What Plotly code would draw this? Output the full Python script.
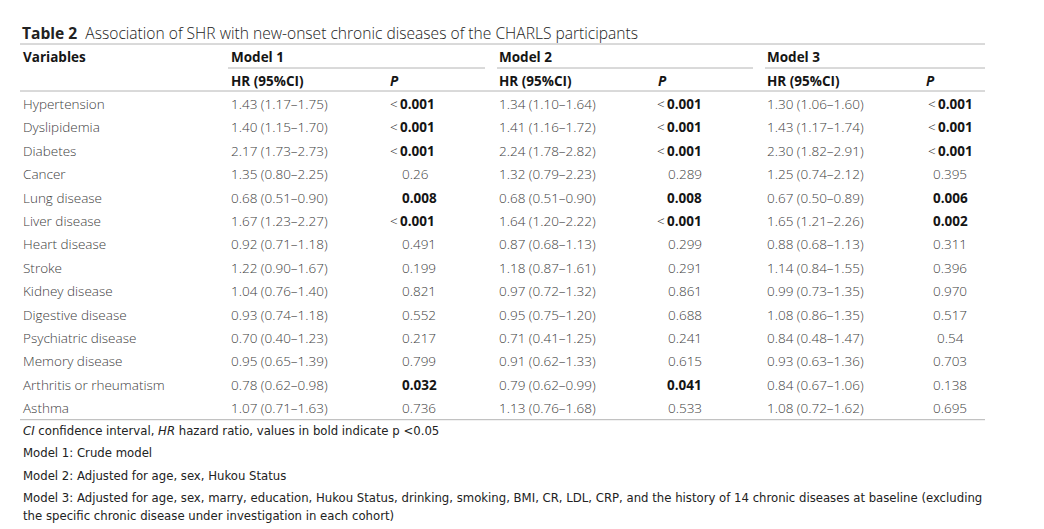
import plotly.graph_objects as go

# table content
variables = ["Hypertension", "Dyslipidemia", "Diabetes", "Cancer", "Lung disease",
             "Liver disease", "Heart disease", "Stroke", "Kidney disease",
             "Digestive disease", "Psychiatric disease", "Memory disease",
             "Arthritis or rheumatism", "Asthma"]

hr_model1 = ["1.43 (1.17–1.75)", "1.40 (1.15–1.70)", "2.17 (1.73–2.73)", "1.35 (0.80–2.25)",
             "0.68 (0.51–0.90)", "1.67 (1.23–2.27)", "0.92 (0.71–1.18)", "1.22 (0.90–1.67)",
             "1.04 (0.76–1.40)", "0.93 (0.74–1.18)", "0.70 (0.40–1.23)", "0.95 (0.65–1.39)",
             "0.78 (0.62–0.98)", "1.07 (0.71–1.63)"]
p_model1 = ["<0.001", "<0.001", "<0.001", "0.26", "0.008", "<0.001", "0.491", "0.199",
            "0.821", "0.552", "0.217", "0.799", "0.032", "0.736"]

hr_model2 = ["1.34 (1.10–1.64)", "1.41 (1.16–1.72)", "2.24 (1.78–2.82)", "1.32 (0.79–2.23)",
             "0.68 (0.51–0.90)", "1.64 (1.20–2.22)", "0.87 (0.68–1.13)", "1.18 (0.87–1.61)",
             "0.97 (0.72–1.32)", "0.95 (0.75–1.20)", "0.71 (0.41–1.25)", "0.91 (0.62–1.33)",
             "0.79 (0.62–0.99)", "1.13 (0.76–1.68)"]
p_model2 = ["<0.001", "<0.001", "<0.001", "0.289", "0.008", "<0.001", "0.299", "0.291",
            "0.861", "0.688", "0.241", "0.615", "0.041", "0.533"]

hr_model3 = ["1.30 (1.06–1.60)", "1.43 (1.17–1.74)", "2.30 (1.82–2.91)", "1.25 (0.74–2.12)",
             "0.67 (0.50–0.89)", "1.65 (1.21–2.26)", "0.88 (0.68–1.13)", "1.14 (0.84–1.55)",
             "0.99 (0.73–1.35)", "1.08 (0.86–1.35)", "0.84 (0.48–1.47)", "0.93 (0.63–1.36)",
             "0.84 (0.67–1.06)", "1.08 (0.72–1.62)"]
p_model3 = ["<0.001", "<0.001", "<0.001", "0.395", "0.006", "0.002", "0.311", "0.396",
            "0.970", "0.517", "0.54", "0.703", "0.138", "0.695"]

model_names = ["Model 1", "Model 2", "Model 3"]

title_bold = "Table 2"
title_text = "Association of SHR with new-onset chronic diseases of the CHARLS participants"
footnotes = [
    "<i>CI</i> confidence interval, <i>HR</i> hazard ratio, values in bold indicate p <0.05",
    "Model 1: Crude model",
    "Model 2: Adjusted for age, sex, Hukou Status",
    "Model 3: Adjusted for age, sex, marry, education, Hukou Status, drinking, smoking, BMI, CR, LDL, CRP, and the history of 14 chronic diseases at baseline (excluding",
    "the specific chronic disease under investigation in each cohort)",
]

W, H = 1044, 529
OFF = 8  # page body margin, so coordinates below are window pixels
FONT = "Open Sans"
NARROW = "Liberation Sans Narrow, DejaVu Sans Condensed, Open Sans"
TXT = "#404040"
DARK = "#151515"
RULE = "#b4b4b4"
BODY = 13.5

fig = go.Figure()
anns = []


def add_text(x, y, text, size=BODY, color=TXT, anchor="left", family=FONT, weight=300):
    anns.append(dict(x=x, y=y, xref="x", yref="y", text=text, showarrow=False,
                     xanchor=anchor, yanchor="middle",
                     font=dict(family=family, size=size, color=color, weight=weight)))


def is_sig(p):
    return p.startswith("<") or float(p) < 0.05


def fmt_sig(p):
    # "<" stays light, the number is bold
    if p.startswith("<"):
        return "<\u2009<b>" + p[1:] + "</b>"
    return f"<b>{p}</b>"


# title
add_text(20, 33, f"<b>{title_bold}</b>  {title_text}", size=15.6, color="#222")

# header
hr_x = [229, 497, 765]
p_head_x = [388, 656, 924]
seg = [(228, 485), (497, 753), (765, 985)]
add_text(21, 57, "<b>Variables</b>", color=DARK)
for i, name in enumerate(model_names):
    add_text(hr_x[i], 57, f"<b>{name}</b>", color=DARK)
    add_text(hr_x[i], 81, "<b>HR (95%CI)</b>", color=DARK)
    add_text(p_head_x[i], 81, "<b><i>P</i></b>", color=DARK)

# body
row_y0, row_dy = 104, 23.4
p_cols = [p_model1, p_model2, p_model3]
hr_cols = [hr_model1, hr_model2, hr_model3]
p_pos = [(400, "left"), (704, "right"), (950, "center")]
for r, v in enumerate(variables):
    y = row_y0 + r * row_dy
    add_text(21, y, v)
    for c in range(3):
        add_text(hr_x[c], y, hr_cols[c][r])
        p = p_cols[c][r]
        px_, anch = p_pos[c]
        if is_sig(p):
            if p.startswith("<") and anch == "left":
                px_ -= 12
            add_text(px_, y, fmt_sig(p), color=DARK, anchor=anch)
        else:
            add_text(px_, y, p, anchor=anch)

# rules
shapes = []
for y in [44, 91]:
    shapes.append(dict(type="line", xref="x", yref="y", x0=20, x1=985, y0=y, y1=y,
                       line=dict(color=RULE, width=1)))
for a, b in seg:
    shapes.append(dict(type="line", xref="x", yref="y", x0=a, x1=b, y0=68, y1=68,
                       line=dict(color=RULE, width=1)))
bottom = row_y0 + (len(variables) - 1) * row_dy + 11.5
shapes.append(dict(type="line", xref="x", yref="y", x0=20, x1=985, y0=bottom, y1=bottom,
                   line=dict(color=RULE, width=1)))

# footnotes
for y, t in zip([430, 452, 475, 497, 515], footnotes):
    add_text(21, y, t, size=13.0, color="#222", family=NARROW, weight=400)

fig.update_layout(
    width=W - OFF, height=H - OFF,
    margin=dict(l=0, r=0, t=0, b=0),
    paper_bgcolor="white", plot_bgcolor="white",
    xaxis=dict(range=[OFF, W], visible=False, fixedrange=True),
    yaxis=dict(range=[H, OFF], visible=False, fixedrange=True),
    annotations=anns, shapes=shapes, showlegend=False,
)

fig.write_html("out.html")
